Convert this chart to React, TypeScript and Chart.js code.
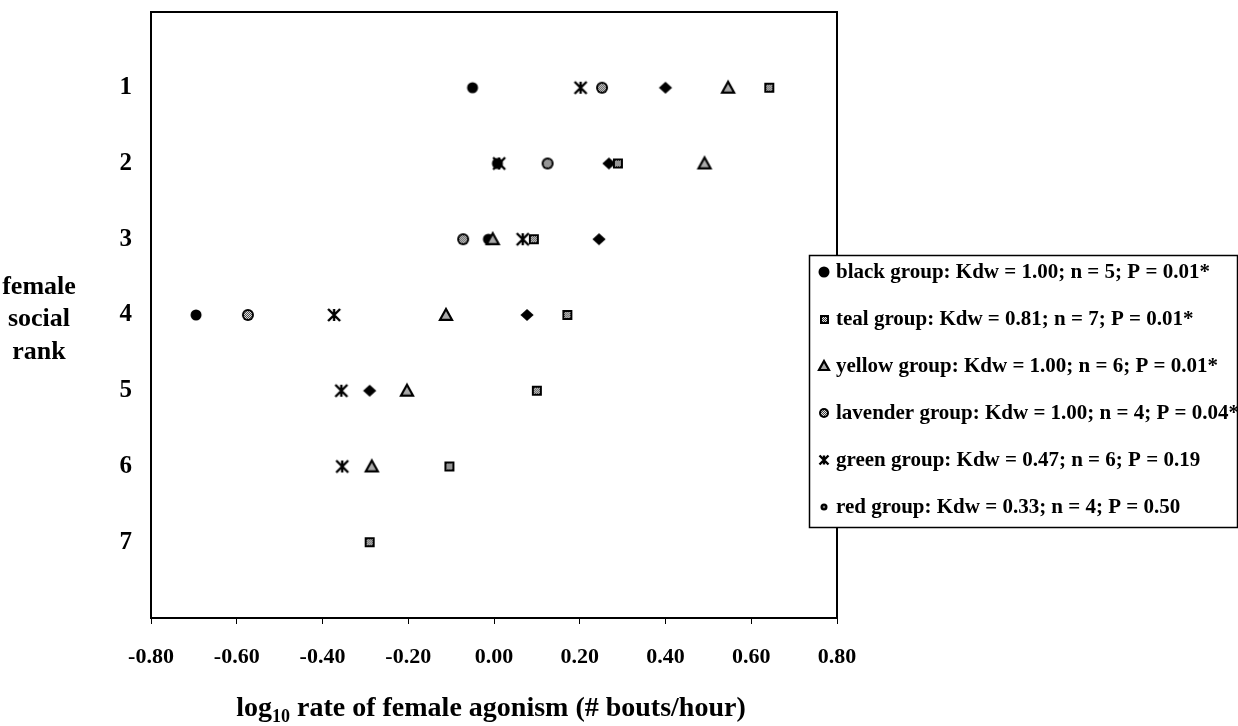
import React, { useEffect, useRef } from "react";
import { Chart, registerables } from "chart.js";

Chart.register(...registerables);

const FONT = '"Liberation Serif", "Times New Roman", serif';

// ---- axis texts ----
const xTickValues = [-0.8, -0.6, -0.4, -0.2, 0, 0.2, 0.4, 0.6, 0.8];
const yTickValues = [1, 2, 3, 4, 5, 6, 7];
const xTitleMain = "log";
const xTitleSub = "10";
const xTitleRest = " rate of female agonism (# bouts/hour)";
const yTitleLines = ["female", "social", "rank"];

// ---- legend texts ----
const groupNames = ["black group", "teal group", "yellow group", "lavender group", "green group", "red group"];
const groupStats = [
  "Kdw = 1.00; n = 5; P = 0.01*",
  "Kdw = 0.81; n = 7; P = 0.01*",
  "Kdw = 1.00; n = 6; P = 0.01*",
  "Kdw = 1.00; n = 4; P = 0.04*",
  "Kdw = 0.47; n = 6; P = 0.19",
  "Kdw = 0.33; n = 4; P = 0.50",
];
const legendMarkers = ["bigdot", "square", "triangle", "ring", "star", "dot"];

// ---- data: female social rank (y) vs log10 agonism rate (x) ----
const blackRanks = [1, 2, 3, 4, 5];
const blackRates = [0.4, 0.268, 0.245, 0.077, -0.29];
const tealRanks = [1, 2, 3, 4, 5, 6, 7];
const tealRates = [0.642, 0.289, 0.093, 0.171, 0.1, -0.104, -0.29];
const yellowRanks = [1, 2, 3, 4, 5, 6];
const yellowRates = [0.546, 0.491, -0.003, -0.112, -0.203, -0.285];
const lavenderRanks = [1, 2, 3, 4];
const lavenderRates = [0.252, 0.125, -0.072, -0.574];
const greenRanks = [1, 2, 3, 4, 5, 6];
const greenRates = [0.202, 0.012, 0.067, -0.373, -0.356, -0.354];
const redRanks = [1, 2, 3, 4];
const redRates = [-0.05, 0.008, -0.013, -0.695];

function checker(ctx: CanvasRenderingContext2D, x0: number, y0: number, w: number, h: number) {
  for (let i = 0; i < w; i++) {
    for (let j = 0; j < h; j++) {
      ctx.fillStyle = (i + j) % 2 === 0 ? "#444" : "#e8e8e8";
      ctx.fillRect(x0 + i, y0 + j, 1, 1);
    }
  }
}

function drawMarker(ctx: CanvasRenderingContext2D, kind: string, cx: number, cy: number, s: number) {
  ctx.save();
  ctx.fillStyle = "#000";
  ctx.strokeStyle = "#000";
  if (kind === "diamond") {
    ctx.beginPath();
    ctx.moveTo(cx, cy - s);
    ctx.lineTo(cx + s * 1.1, cy);
    ctx.lineTo(cx, cy + s);
    ctx.lineTo(cx - s * 1.1, cy);
    ctx.closePath();
    ctx.fill();
  } else if (kind === "bigdot" || kind === "dot") {
    ctx.beginPath();
    ctx.arc(cx, cy, s, 0, Math.PI * 2);
    ctx.fill();
    if (kind === "dot") {
      ctx.fillStyle = "#777";
      ctx.beginPath();
      ctx.arc(cx, cy, s * 0.35, 0, Math.PI * 2);
      ctx.fill();
    }
  } else if (kind === "square") {
    const x0 = Math.round(cx - s), y0 = Math.round(cy - s), w = Math.round(2 * s);
    ctx.fillRect(x0, y0, w, w);
    checker(ctx, x0 + 2, y0 + 2, w - 4, w - 4);
  } else if (kind === "ring") {
    ctx.beginPath();
    ctx.arc(cx, cy, s, 0, Math.PI * 2);
    ctx.fill();
    ctx.save();
    ctx.beginPath();
    ctx.arc(cx, cy, s - 2, 0, Math.PI * 2);
    ctx.clip();
    checker(ctx, Math.floor(cx - s), Math.floor(cy - s), Math.ceil(2 * s) + 1, Math.ceil(2 * s) + 1);
    ctx.restore();
  } else if (kind === "triangle") {
    ctx.lineWidth = 2.2;
    ctx.lineJoin = "miter";
    ctx.beginPath();
    ctx.moveTo(cx, cy - s);
    ctx.lineTo(cx + s, cy + s * 0.8);
    ctx.lineTo(cx - s, cy + s * 0.8);
    ctx.closePath();
    ctx.fillStyle = "#aaa";
    ctx.fill();
    ctx.stroke();
  } else if (kind === "star") {
    ctx.lineWidth = 2.4;
    ctx.lineCap = "butt";
    ctx.beginPath();
    ctx.moveTo(cx - s, cy - s);
    ctx.lineTo(cx + s, cy + s);
    ctx.moveTo(cx + s, cy - s);
    ctx.lineTo(cx - s, cy + s);
    ctx.moveTo(cx, cy - s);
    ctx.lineTo(cx, cy + s);
    ctx.stroke();
  }
  ctx.restore();
}

function markerImage(kind: string, s: number) {
  const c = document.createElement("canvas");
  c.width = 20;
  c.height = 20;
  const ctx = c.getContext("2d") as CanvasRenderingContext2D;
  drawMarker(ctx, kind, 10, 10, s);
  return c;
}

function fmtX(v: number) {
  if (Math.abs(v) < 1e-9) return "0.00";
  return v.toFixed(2);
}

const decorPlugin = {
  id: "decor",
  afterDraw(chart: any) {
    const { ctx, chartArea } = chart;
    const { left, top, right, bottom } = chartArea;
    ctx.save();
    // frame
    ctx.strokeStyle = "#000";
    ctx.lineWidth = 2;
    ctx.strokeRect(left, top, right - left, bottom - top);

    // x title with subscript
    ctx.fillStyle = "#000";
    ctx.textBaseline = "alphabetic";
    const big = `bold 28px ${FONT}`;
    const small = `bold 18px ${FONT}`;
    ctx.font = big;
    const w1 = ctx.measureText(xTitleMain).width;
    const w3 = ctx.measureText(xTitleRest).width;
    ctx.font = small;
    const w2 = ctx.measureText(xTitleSub).width;
    const total = w1 + w2 + w3;
    let x = (left + right) / 2 - 3 - total / 2;
    const baseY = 716;
    ctx.textAlign = "left";
    ctx.font = big;
    ctx.fillText(xTitleMain, x, baseY);
    x += w1;
    ctx.font = small;
    ctx.fillText(xTitleSub, x, baseY + 6);
    x += w2;
    ctx.font = big;
    ctx.fillText(xTitleRest, x, baseY);

    // y title
    ctx.font = `bold 26px ${FONT}`;
    ctx.textAlign = "center";
    ctx.textBaseline = "middle";
    yTitleLines.forEach((t, i) => ctx.fillText(t, 39, 287 + i * 32.5));

    // legend box
    const lx = 809.5, ly = 255.5, lw = 428, lh = 272;
    ctx.fillStyle = "#fff";
    ctx.fillRect(lx, ly, lw, lh);
    ctx.lineWidth = 1.5;
    ctx.strokeStyle = "#000";
    ctx.strokeRect(lx, ly, lw, lh);
    ctx.font = `bold 21px ${FONT}`;
    ctx.textAlign = "left";
    ctx.textBaseline = "middle";
    const sizes: Record<string, number> = { bigdot: 5.5, square: 4.5, triangle: 5, ring: 5, star: 4.5, dot: 3.5 };
    groupNames.forEach((name, i) => {
      const cy = 272 + i * 47;
      drawMarker(ctx, legendMarkers[i], 824, cy, sizes[legendMarkers[i]]);
      ctx.fillStyle = "#000";
      ctx.fillText(`${name}: ${groupStats[i]}`, 836, cy + 1);
    });
    ctx.restore();
  },
};

export default function App() {
  const ref = useRef<HTMLCanvasElement | null>(null);
  useEffect(() => {
    if (!ref.current) return;
    const pts = (ranks: number[], rates: number[]) => ranks.map((r, i) => ({ x: rates[i], y: r }));
    const ds = (label: string, ranks: number[], rates: number[], kind: string, s: number, order: number) => ({
      label,
      data: pts(ranks, rates),
      pointStyle: markerImage(kind, s),
      pointRadius: 7,
      showLine: false,
      order,
    });
    const chart = new Chart(ref.current, {
      type: "scatter",
      data: {
        datasets: [
          ds(groupNames[5], redRanks, redRates, "bigdot", 5.5, 10),
          ds(groupNames[0], blackRanks, blackRates, "diamond", 6, 5),
          ds(groupNames[3], lavenderRanks, lavenderRates, "ring", 6, 4),
          ds(groupNames[2], yellowRanks, yellowRates, "triangle", 6, 3),
          ds(groupNames[1], tealRanks, tealRates, "square", 5, 2),
          ds(groupNames[4], greenRanks, greenRates, "star", 6, 1),
        ] as any,
      },
      options: {
        animation: false,
        responsive: true,
        maintainAspectRatio: false,
        events: [],
        layout: { padding: { left: 0, top: 12, right: 401, bottom: 0 } },
        plugins: { legend: { display: false }, tooltip: { enabled: false } },
        scales: {
          x: {
            type: "linear",
            min: -0.8,
            max: 0.8,
            afterBuildTicks: (s: any) => {
              s.ticks = xTickValues.map((v) => ({ value: v }));
            },
            afterFit: (s: any) => {
              s.height = 108;
              s.paddingLeft = 0;
              s.paddingRight = 0;
            },
            ticks: {
              callback: (v: any) => fmtX(Number(v)),
              font: { family: FONT, size: 22, weight: "bold" },
              color: "#000",
              padding: 20,
              maxRotation: 0,
              autoSkip: false,
            },
            grid: { display: true, drawOnChartArea: false, drawTicks: true, tickLength: 6, color: "#000", lineWidth: 1 },
            border: { display: false },
          },
          y: {
            type: "linear",
            reverse: true,
            min: 0,
            max: 8,
            afterBuildTicks: (s: any) => {
              s.ticks = yTickValues.map((v) => ({ value: v }));
            },
            afterFit: (s: any) => {
              s.width = 151;
              s.paddingTop = 0;
              s.paddingBottom = 0;
            },
            ticks: {
              font: { family: FONT, size: 25, weight: "bold" },
              color: "#000",
              padding: 19,
              autoSkip: false,
            },
            grid: { display: false, drawTicks: false },
            border: { display: false },
          },
        },
      } as any,
      plugins: [decorPlugin],
    });
    return () => chart.destroy();
  }, []);
  return (
    <div style={{ position: "absolute", left: 0, top: 0, width: 1238, height: 726, background: "#fff" }}>
      <canvas ref={ref} />
    </div>
  );
}
